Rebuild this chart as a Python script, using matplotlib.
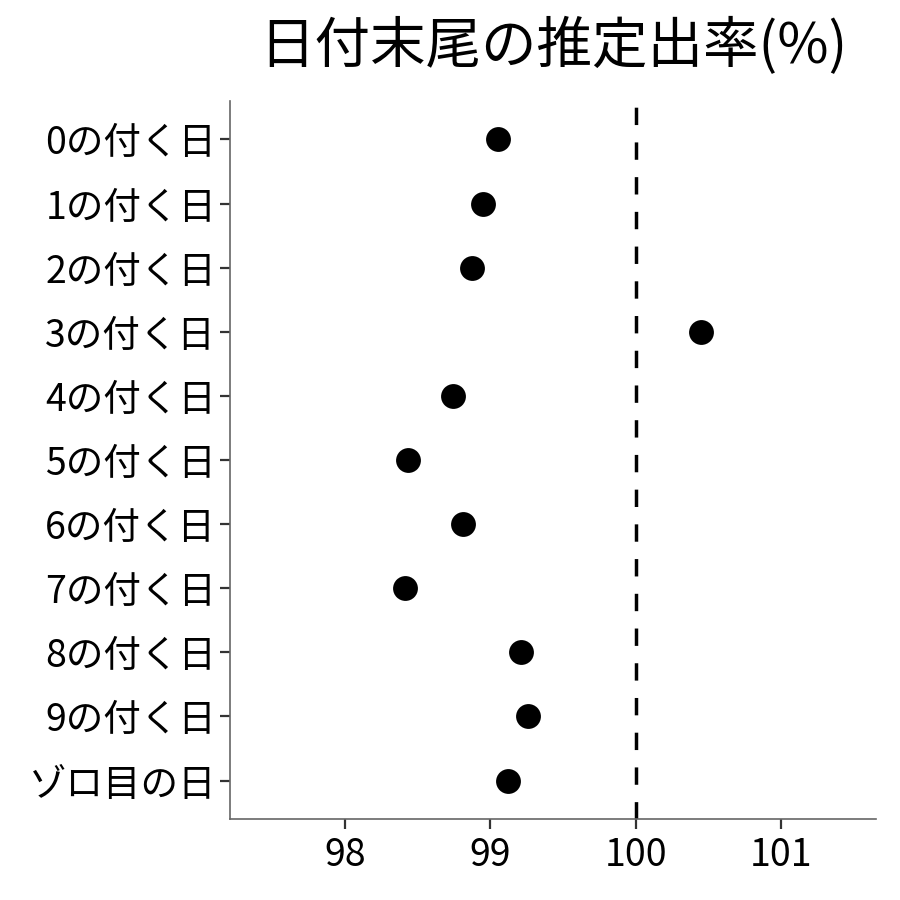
import matplotlib

matplotlib.use("Agg")
import matplotlib.pyplot as plt


CATEGORIES = [
    "0の付く日", "1の付く日", "2の付く日", "3の付く日", "4の付く日",
    "5の付く日", "6の付く日", "7の付く日", "8の付く日", "9の付く日",
    "ゾロ目の日",
]
RATES = [99.05, 98.95, 98.87, 100.45, 98.74, 98.43, 98.81, 98.41, 99.21, 99.26, 99.12]
X_TICKS = [98, 99, 100, 101]
REFERENCE = 100
TITLE = "日付末尾の推定出率(%)"


def main() -> None:
    plt.rcParams.update(
        {
            "font.family": ["Noto Sans CJK JP", "DejaVu Sans"],
            "figure.facecolor": "white",
            "axes.facecolor": "white",
        }
    )

    fig = plt.figure(figsize=(9, 9), dpi=100)
    ax = fig.add_axes([0.2556, 0.09, 0.7177, 0.7978])

    n = len(CATEGORIES)
    ypos = [n - i for i in range(n)]
    ax.scatter(RATES, ypos, s=320, color="black", zorder=3, linewidths=0)
    ax.axvline(REFERENCE, color="black", linewidth=2.5, dashes=(5, 5), zorder=2)

    ax.set_xlim(97.21, 101.65)
    ax.set_ylim(0.4, n + 0.6)
    ax.set_xticks(X_TICKS, [str(t) for t in X_TICKS], fontsize=27)
    ax.set_yticks(ypos, CATEGORIES, fontsize=27)
    ax.tick_params(length=7, width=1.6, color="#333333", labelcolor="black", pad=3)
    ax.tick_params(axis="x", pad=5)

    for side in ("top", "right"):
        ax.spines[side].set_visible(False)
    for side in ("left", "bottom"):
        ax.spines[side].set_color("#666666")
        ax.spines[side].set_linewidth(1.2)

    ax.set_title(TITLE, fontsize=40, pad=27)

    fig.savefig("out.png", dpi=100)
    plt.close(fig)


if __name__ == "__main__":
    main()
